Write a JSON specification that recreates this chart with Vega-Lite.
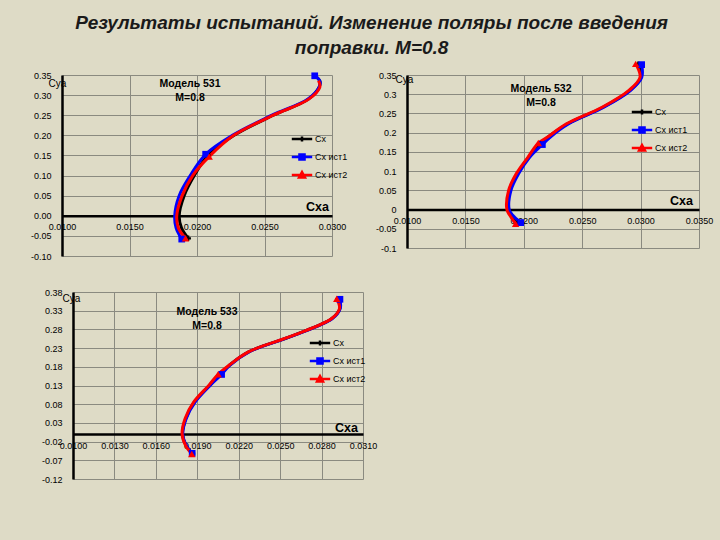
{
  "$schema": "https://vega.github.io/schema/vega-lite/v6.json",
  "background": "#dedbc6",
  "padding": {"left": 30, "top": 13, "right": 20, "bottom": 80},
  "title": {
    "text": ["Результаты испытаний. Изменение поляры после введения", "поправки.  M=0.8"],
    "font": "Liberation Sans",
    "fontSize": 19,
    "fontStyle": "italic",
    "fontWeight": "bold",
    "color": "#1a1a1a",
    "lineHeight": 25,
    "anchor": "middle",
    "offset": 0
  },
  "datasets": {
    "p1": [
      {"s": "Сх", "x": 0.01935, "y": -0.056, "m": 1},
      {"s": "Сх", "x": 0.01885, "y": -0.03, "m": 0},
      {"s": "Сх", "x": 0.01868, "y": 0.0, "m": 0},
      {"s": "Сх", "x": 0.01905, "y": 0.05, "m": 0},
      {"s": "Сх", "x": 0.0198, "y": 0.1, "m": 0},
      {"s": "Сх", "x": 0.0208, "y": 0.15, "m": 1},
      {"s": "Сх", "x": 0.02275, "y": 0.2, "m": 0},
      {"s": "Сх", "x": 0.02565, "y": 0.25, "m": 0},
      {"s": "Сх", "x": 0.02825, "y": 0.29, "m": 0},
      {"s": "Сх", "x": 0.02905, "y": 0.32, "m": 0},
      {"s": "Сх", "x": 0.0291, "y": 0.335, "m": 0},
      {"s": "Сх", "x": 0.02875, "y": 0.348, "m": 1},
      {"s": "Сх ист1", "x": 0.01887, "y": -0.058, "m": 1},
      {"s": "Сх ист1", "x": 0.01845, "y": -0.03, "m": 0},
      {"s": "Сх ист1", "x": 0.01835, "y": 0.0, "m": 0},
      {"s": "Сх ист1", "x": 0.01868, "y": 0.05, "m": 0},
      {"s": "Сх ист1", "x": 0.0195, "y": 0.1, "m": 0},
      {"s": "Сх ист1", "x": 0.02064, "y": 0.153, "m": 1},
      {"s": "Сх ист1", "x": 0.02262, "y": 0.2, "m": 0},
      {"s": "Сх ист1", "x": 0.02555, "y": 0.25, "m": 0},
      {"s": "Сх ист1", "x": 0.0282, "y": 0.29, "m": 0},
      {"s": "Сх ист1", "x": 0.02905, "y": 0.32, "m": 0},
      {"s": "Сх ист1", "x": 0.0291, "y": 0.335, "m": 0},
      {"s": "Сх ист1", "x": 0.02872, "y": 0.348, "m": 1},
      {"s": "Сх ист2", "x": 0.01915, "y": -0.056, "m": 1},
      {"s": "Сх ист2", "x": 0.01862, "y": -0.03, "m": 0},
      {"s": "Сх ист2", "x": 0.0185, "y": 0.0, "m": 0},
      {"s": "Сх ист2", "x": 0.0189, "y": 0.05, "m": 0},
      {"s": "Сх ист2", "x": 0.01968, "y": 0.1, "m": 0},
      {"s": "Сх ист2", "x": 0.0209, "y": 0.147, "m": 1},
      {"s": "Сх ист2", "x": 0.02272, "y": 0.2, "m": 0},
      {"s": "Сх ист2", "x": 0.02565, "y": 0.25, "m": 0},
      {"s": "Сх ист2", "x": 0.02828, "y": 0.29, "m": 0},
      {"s": "Сх ист2", "x": 0.0291, "y": 0.32, "m": 0},
      {"s": "Сх ист2", "x": 0.029, "y": 0.336, "m": 0}
    ],
    "p2": [
      {"s": "Сх", "x": 0.0195, "y": -0.035, "m": 1},
      {"s": "Сх", "x": 0.01865, "y": 0.0, "m": 0},
      {"s": "Сх", "x": 0.0188, "y": 0.05, "m": 0},
      {"s": "Сх", "x": 0.01945, "y": 0.093, "m": 0},
      {"s": "Сх", "x": 0.02042, "y": 0.136, "m": 0},
      {"s": "Сх", "x": 0.0214, "y": 0.171, "m": 1},
      {"s": "Сх", "x": 0.02375, "y": 0.223, "m": 0},
      {"s": "Сх", "x": 0.02678, "y": 0.266, "m": 0},
      {"s": "Сх", "x": 0.02908, "y": 0.31, "m": 0},
      {"s": "Сх", "x": 0.03003, "y": 0.344, "m": 0},
      {"s": "Сх", "x": 0.0298, "y": 0.378, "m": 1},
      {"s": "Сх ист1", "x": 0.01973, "y": -0.034, "m": 1},
      {"s": "Сх ист1", "x": 0.01905, "y": -0.015, "m": 0},
      {"s": "Сх ист1", "x": 0.01875, "y": 0.0, "m": 0},
      {"s": "Сх ист1", "x": 0.0189, "y": 0.05, "m": 0},
      {"s": "Сх ист1", "x": 0.01955, "y": 0.093, "m": 0},
      {"s": "Сх ист1", "x": 0.0205, "y": 0.136, "m": 0},
      {"s": "Сх ист1", "x": 0.02159, "y": 0.169, "m": 1},
      {"s": "Сх ист1", "x": 0.02225, "y": 0.188, "m": 0},
      {"s": "Сх ист1", "x": 0.02385, "y": 0.223, "m": 0},
      {"s": "Сх ист1", "x": 0.02685, "y": 0.266, "m": 0},
      {"s": "Сх ист1", "x": 0.02915, "y": 0.31, "m": 0},
      {"s": "Сх ист1", "x": 0.0301, "y": 0.344, "m": 0},
      {"s": "Сх ист1", "x": 0.03009, "y": 0.377, "m": 1},
      {"s": "Сх ист2", "x": 0.0193, "y": -0.037, "m": 1},
      {"s": "Сх ист2", "x": 0.0188, "y": -0.015, "m": 0},
      {"s": "Сх ист2", "x": 0.01855, "y": 0.0, "m": 0},
      {"s": "Сх ист2", "x": 0.0187, "y": 0.05, "m": 0},
      {"s": "Сх ист2", "x": 0.01935, "y": 0.093, "m": 0},
      {"s": "Сх ист2", "x": 0.02035, "y": 0.136, "m": 0},
      {"s": "Сх ист2", "x": 0.02124, "y": 0.173, "m": 1},
      {"s": "Сх ист2", "x": 0.022, "y": 0.188, "m": 0},
      {"s": "Сх ист2", "x": 0.02365, "y": 0.223, "m": 0},
      {"s": "Сх ист2", "x": 0.0267, "y": 0.266, "m": 0},
      {"s": "Сх ист2", "x": 0.029, "y": 0.31, "m": 0},
      {"s": "Сх ист2", "x": 0.02995, "y": 0.344, "m": 0},
      {"s": "Сх ист2", "x": 0.02958, "y": 0.379, "m": 1}
    ],
    "p3": [
      {"s": "Сх", "x": 0.01865, "y": -0.052, "m": 1},
      {"s": "Сх", "x": 0.01818, "y": -0.03, "m": 0},
      {"s": "Сх", "x": 0.01793, "y": 0.0, "m": 0},
      {"s": "Сх", "x": 0.01817, "y": 0.042, "m": 0},
      {"s": "Сх", "x": 0.0188, "y": 0.086, "m": 0},
      {"s": "Сх", "x": 0.0199, "y": 0.131, "m": 0},
      {"s": "Сх", "x": 0.02065, "y": 0.16, "m": 1},
      {"s": "Сх", "x": 0.02132, "y": 0.184, "m": 0},
      {"s": "Сх", "x": 0.02272, "y": 0.22, "m": 0},
      {"s": "Сх", "x": 0.02598, "y": 0.264, "m": 0},
      {"s": "Сх", "x": 0.02875, "y": 0.309, "m": 0},
      {"s": "Сх", "x": 0.02933, "y": 0.336, "m": 0},
      {"s": "Сх", "x": 0.0292, "y": 0.361, "m": 1},
      {"s": "Сх ист1", "x": 0.01863, "y": -0.0514, "m": 1},
      {"s": "Сх ист1", "x": 0.0182, "y": -0.03, "m": 0},
      {"s": "Сх ист1", "x": 0.01795, "y": 0.0, "m": 0},
      {"s": "Сх ист1", "x": 0.0182, "y": 0.042, "m": 0},
      {"s": "Сх ист1", "x": 0.01885, "y": 0.086, "m": 0},
      {"s": "Сх ист1", "x": 0.01995, "y": 0.131, "m": 0},
      {"s": "Сх ист1", "x": 0.02076, "y": 0.1595, "m": 1},
      {"s": "Сх ист1", "x": 0.02135, "y": 0.184, "m": 0},
      {"s": "Сх ист1", "x": 0.02275, "y": 0.22, "m": 0},
      {"s": "Сх ист1", "x": 0.026, "y": 0.264, "m": 0},
      {"s": "Сх ист1", "x": 0.02878, "y": 0.309, "m": 0},
      {"s": "Сх ист1", "x": 0.02935, "y": 0.336, "m": 0},
      {"s": "Сх ист1", "x": 0.02933, "y": 0.3605, "m": 1},
      {"s": "Сх ист2", "x": 0.0186, "y": -0.053, "m": 1},
      {"s": "Сх ист2", "x": 0.01815, "y": -0.03, "m": 0},
      {"s": "Сх ист2", "x": 0.0179, "y": 0.0, "m": 0},
      {"s": "Сх ист2", "x": 0.01812, "y": 0.042, "m": 0},
      {"s": "Сх ист2", "x": 0.01875, "y": 0.086, "m": 0},
      {"s": "Сх ист2", "x": 0.01985, "y": 0.131, "m": 0},
      {"s": "Сх ист2", "x": 0.02051, "y": 0.16, "m": 1},
      {"s": "Сх ист2", "x": 0.0213, "y": 0.184, "m": 0},
      {"s": "Сх ист2", "x": 0.0227, "y": 0.22, "m": 0},
      {"s": "Сх ист2", "x": 0.02595, "y": 0.264, "m": 0},
      {"s": "Сх ист2", "x": 0.02873, "y": 0.309, "m": 0},
      {"s": "Сх ист2", "x": 0.0293, "y": 0.336, "m": 0},
      {"s": "Сх ист2", "x": 0.0291, "y": 0.362, "m": 1}
    ]
  },
  "spacing": 27,
  "resolve": {"scale": {"color": "independent"}, "legend": {"color": "independent"}},
  "vconcat": [
    {
      "bounds": "flush",
      "spacing": 75,
      "resolve": {"scale": {"color": "independent"}, "legend": {"color": "independent"}},
      "hconcat": [
        {
          "width": 270,
          "height": 181,
          "data": {"name": "p1"},
          "title": {"text": ["Модель 531", "M=0.8"], "frame": "group", "anchor": "middle", "offset": -34, "dx": -7, "font": "Liberation Sans", "fontSize": 10.5, "fontWeight": "bold", "lineHeight": 14, "color": "#000"},
          "encoding": {
            "x": {"field": "x", "type": "quantitative", "scale": {"domain": [0.01, 0.03], "nice": false, "zero": false},
              "axis": {"values": [0.01, 0.015, 0.02, 0.025, 0.03], "format": ".4f", "offset": -40.2, "labelPadding": 7,
                "title": "Сха", "titleX": 255, "titleY": -9, "titleAlign": "center", "titleBaseline": "middle", "titleAngle": 0, "titleFontSize": 12.5, "titleFontWeight": "bold"}},
            "y": {"field": "y", "type": "quantitative", "scale": {"domain": [-0.1, 0.35], "nice": false, "zero": false},
              "axis": {"values": [-0.1, -0.05, 0, 0.05, 0.1, 0.15, 0.2, 0.25, 0.3, 0.35], "labelExpr": "replace(format(datum.value, '.2f'), '−', '-')", "labelPadding": 11,
                "title": "Cya", "titleX": -5, "titleY": 8, "titleAlign": "center", "titleBaseline": "middle", "titleAngle": 0, "titleFontSize": 10, "titleFontWeight": "normal"}}
          },
          "layer": [
            {"mark": {"type": "line", "interpolate": "catmull-rom", "strokeWidth": 3},
              "encoding": {
                "order": {"field": "y", "type": "quantitative"},
                "color": {"field": "s", "type": "nominal", "scale": {"domain": ["Сх", "Сх ист1", "Сх ист2"], "range": ["#000000", "#0000ff", "#ff0000"]},
                  "legend": {"orient": "none", "legendX": 230, "legendY": 54, "title": null,
                    "encode": {"symbols": {"update": {
                      "shape": {"signal": "datum.value === 'Сх' ? 'M-1.2,0H1.2M0,-0.3V0.3' : datum.value === 'Сх ист1' ? 'M-1.2,0H1.2M-0.3,-0.3H0.3V0.3H-0.3Z' : 'M-1.2,0H1.2M0,-0.35L0.35,0.3H-0.35Z'"},
                      "fill": {"signal": "datum.value === 'Сх' ? '#000000' : datum.value === 'Сх ист1' ? '#0000ff' : '#ff0000'"},
                      "stroke": {"signal": "datum.value === 'Сх' ? '#000000' : datum.value === 'Сх ист1' ? '#0000ff' : '#ff0000'"},
                      "strokeWidth": {"value": 2.5},
                      "opacity": {"value": 1}}}}}}}},
            {"transform": [{"filter": "datum.m == 1 && datum.s == 'Сх'"}], "mark": {"type": "point", "shape": "cross", "filled": true, "color": "#000000", "size": 30, "opacity": 1}},
            {"transform": [{"filter": "datum.m == 1 && datum.s == 'Сх ист1'"}], "mark": {"type": "point", "shape": "square", "filled": true, "color": "#0000ff", "size": 45, "opacity": 1}},
            {"transform": [{"filter": "datum.m == 1 && datum.s == 'Сх ист2'"}], "mark": {"type": "point", "shape": "triangle-up", "filled": true, "color": "#ff0000", "size": 55, "opacity": 1}}
          ]
        },
        {
          "width": 292,
          "height": 173,
          "data": {"name": "p2"},
          "title": {"text": ["Модель 532", "M=0.8"], "frame": "group", "anchor": "middle", "offset": -51, "dx": -12, "font": "Liberation Sans", "fontSize": 10.5, "fontWeight": "bold", "lineHeight": 14, "color": "#000"},
          "encoding": {
            "x": {"field": "x", "type": "quantitative", "scale": {"domain": [0.01, 0.035], "nice": false, "zero": false},
              "axis": {"values": [0.01, 0.015, 0.02, 0.025, 0.03, 0.035], "format": ".4f", "offset": -38.4, "labelPadding": 7,
                "title": "Сха", "titleX": 274, "titleY": -9, "titleAlign": "center", "titleBaseline": "middle", "titleAngle": 0, "titleFontSize": 12.5, "titleFontWeight": "bold"}},
            "y": {"field": "y", "type": "quantitative", "scale": {"domain": [-0.1, 0.35], "nice": false, "zero": false},
              "axis": {"values": [-0.1, -0.05, 0, 0.05, 0.1, 0.15, 0.2, 0.25, 0.3, 0.35], "labelExpr": "replace(format(datum.value, '~g'), '−', '-')", "labelPadding": 11,
                "title": "Cya", "titleX": -3, "titleY": 4, "titleAlign": "center", "titleBaseline": "middle", "titleAngle": 0, "titleFontSize": 10, "titleFontWeight": "normal"}}
          },
          "layer": [
            {"mark": {"type": "line", "interpolate": "catmull-rom", "strokeWidth": 3},
              "encoding": {
                "order": {"field": "y", "type": "quantitative"},
                "color": {"field": "s", "type": "nominal", "scale": {"domain": ["Сх", "Сх ист1", "Сх ист2"], "range": ["#000000", "#0000ff", "#ff0000"]},
                  "legend": {"orient": "none", "legendX": 225, "legendY": 27, "title": null,
                    "encode": {"symbols": {"update": {
                      "shape": {"signal": "datum.value === 'Сх' ? 'M-1.2,0H1.2M0,-0.3V0.3' : datum.value === 'Сх ист1' ? 'M-1.2,0H1.2M-0.3,-0.3H0.3V0.3H-0.3Z' : 'M-1.2,0H1.2M0,-0.35L0.35,0.3H-0.35Z'"},
                      "fill": {"signal": "datum.value === 'Сх' ? '#000000' : datum.value === 'Сх ист1' ? '#0000ff' : '#ff0000'"},
                      "stroke": {"signal": "datum.value === 'Сх' ? '#000000' : datum.value === 'Сх ист1' ? '#0000ff' : '#ff0000'"},
                      "strokeWidth": {"value": 2.5},
                      "opacity": {"value": 1}}}}}}}},
            {"transform": [{"filter": "datum.m == 1 && datum.s == 'Сх'"}], "mark": {"type": "point", "shape": "cross", "filled": true, "color": "#000000", "size": 30, "opacity": 1}},
            {"transform": [{"filter": "datum.m == 1 && datum.s == 'Сх ист1'"}], "mark": {"type": "point", "shape": "square", "filled": true, "color": "#0000ff", "size": 45, "opacity": 1}},
            {"transform": [{"filter": "datum.m == 1 && datum.s == 'Сх ист2'"}], "mark": {"type": "point", "shape": "triangle-up", "filled": true, "color": "#ff0000", "size": 55, "opacity": 1}}
          ]
        }
      ]
    },
    {
      "bounds": "flush",
      "spacing": 10,
      "resolve": {"scale": {"color": "independent"}, "legend": {"color": "independent"}},
      "hconcat": [
        {"width": 1, "height": 1, "data": {"values": [{"v": 0}]}, "mark": {"type": "point", "opacity": 0}, "encoding": {}},
        {
          "width": 290,
          "height": 187,
          "data": {"name": "p3"},
          "title": {"text": ["Модель 533", "M=0.8"], "frame": "group", "anchor": "middle", "offset": -43, "dx": -11, "font": "Liberation Sans", "fontSize": 10.5, "fontWeight": "bold", "lineHeight": 14, "color": "#000"},
          "encoding": {
            "x": {"field": "x", "type": "quantitative", "scale": {"domain": [0.01, 0.031], "nice": false, "zero": false},
              "axis": {"values": [0.01, 0.013, 0.016, 0.019, 0.022, 0.025, 0.028, 0.031], "format": ".4f", "offset": -44.9, "labelPadding": 7,
                "title": "Сха", "titleX": 273, "titleY": -7, "titleAlign": "center", "titleBaseline": "middle", "titleAngle": 0, "titleFontSize": 12.5, "titleFontWeight": "bold"}},
            "y": {"field": "y", "type": "quantitative", "scale": {"domain": [-0.12, 0.38], "nice": false, "zero": false},
              "axis": {"values": [-0.12, -0.07, -0.02, 0.03, 0.08, 0.13, 0.18, 0.23, 0.28, 0.33, 0.38], "labelExpr": "replace(format(datum.value, '.2f'), '−', '-')", "labelPadding": 11,
                "title": "Cya", "titleX": -2, "titleY": 6, "titleAlign": "center", "titleBaseline": "middle", "titleAngle": 0, "titleFontSize": 10, "titleFontWeight": "normal"}}
          },
          "layer": [
            {"mark": {"type": "line", "interpolate": "catmull-rom", "strokeWidth": 3},
              "encoding": {
                "order": {"field": "y", "type": "quantitative"},
                "color": {"field": "s", "type": "nominal", "scale": {"domain": ["Сх", "Сх ист1", "Сх ист2"], "range": ["#000000", "#0000ff", "#ff0000"]},
                  "legend": {"orient": "none", "legendX": 237, "legendY": 41, "title": null,
                    "encode": {"symbols": {"update": {
                      "shape": {"signal": "datum.value === 'Сх' ? 'M-1.2,0H1.2M0,-0.3V0.3' : datum.value === 'Сх ист1' ? 'M-1.2,0H1.2M-0.3,-0.3H0.3V0.3H-0.3Z' : 'M-1.2,0H1.2M0,-0.35L0.35,0.3H-0.35Z'"},
                      "fill": {"signal": "datum.value === 'Сх' ? '#000000' : datum.value === 'Сх ист1' ? '#0000ff' : '#ff0000'"},
                      "stroke": {"signal": "datum.value === 'Сх' ? '#000000' : datum.value === 'Сх ист1' ? '#0000ff' : '#ff0000'"},
                      "strokeWidth": {"value": 2.5},
                      "opacity": {"value": 1}}}}}}}},
            {"transform": [{"filter": "datum.m == 1 && datum.s == 'Сх'"}], "mark": {"type": "point", "shape": "cross", "filled": true, "color": "#000000", "size": 30, "opacity": 1}},
            {"transform": [{"filter": "datum.m == 1 && datum.s == 'Сх ист1'"}], "mark": {"type": "point", "shape": "square", "filled": true, "color": "#0000ff", "size": 45, "opacity": 1}},
            {"transform": [{"filter": "datum.m == 1 && datum.s == 'Сх ист2'"}], "mark": {"type": "point", "shape": "triangle-up", "filled": true, "color": "#ff0000", "size": 55, "opacity": 1}}
          ]
        }
      ]
    }
  ],
  "config": {
    "font": "Liberation Sans",
    "view": {"stroke": null},
    "axis": {
      "labelFont": "Liberation Sans",
      "labelFontSize": 9,
      "labelColor": "#000000",
      "labelFlush": false,
      "labelOverlap": false,
      "ticks": false,
      "domainColor": "#000000",
      "domainWidth": 2.5,
      "grid": true,
      "gridColor": "#8a8a80",
      "gridWidth": 1,
      "gridOpacity": 1,
      "titleColor": "#000000",
      "titleFont": "Liberation Sans"
    },
    "legend": {
      "labelFont": "Liberation Sans",
      "labelFontSize": 9,
      "labelColor": "#000000",
      "labelOffset": 3,
      "symbolSize": 289,
      "rowPadding": 0,
      "padding": 0
    }
  }
}
